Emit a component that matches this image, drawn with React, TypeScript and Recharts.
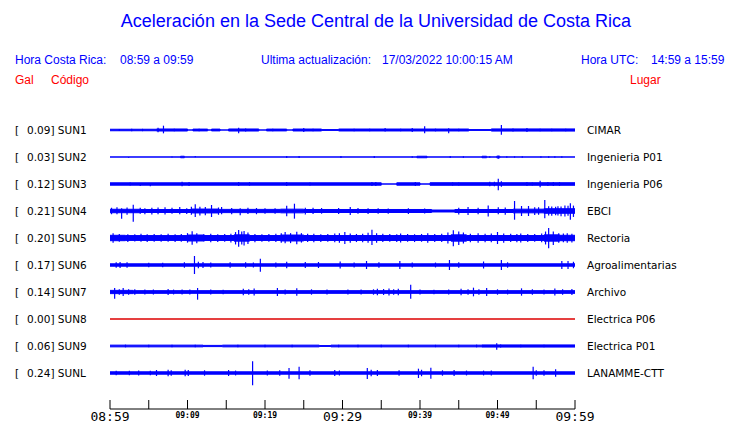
import React from "react";
import { Area, ComposedChart, ErrorBar, Scatter, XAxis, YAxis } from "recharts";

// [minute, half amplitude (Gal)] — step envelope of each trace
type Band = [number, number][];
// [minute, amplitude up (Gal), amplitude down (Gal)]
type Spikes = [number, number, number][];

const CODES = ["SUN1", "SUN2", "SUN3", "SUN4", "SUN5", "SUN6", "SUN7", "SUN8", "SUN9", "SUNL"];
const PEAKS = [0.09, 0.03, 0.12, 0.21, 0.2, 0.17, 0.14, 0.0, 0.06, 0.24];
const PLACES = [
  "CIMAR",
  "Ingenieria P01",
  "Ingenieria P06",
  "EBCI",
  "Rectoria",
  "Agroalimentarias",
  "Archivo",
  "Electrica P06",
  "Electrica P01",
  "LANAMME-CTT",
];
const ACTIVE = [true, true, true, true, true, true, true, false, true, true];

const TICK_MINUTES = [0, 5, 10, 15, 20, 25, 30, 35, 40, 45, 50, 55, 60];
const TICK_LABELS = ["08:59", "", "09:09", "", "09:19", "", "09:29", "", "09:39", "", "09:49", "", "09:59"];
const BIG_LABELS = ["08:59", "09:29", "09:59"];

const SUN1_BAND: Band = [
  [0, 0.014], [6, 0.019], [10, 0], [10.7, 0.017], [12.6, 0], [13.1, 0.017], [14.2, 0], [15.3, 0.019],
  [19.2, 0], [20.2, 0.017], [22.8, 0], [23.6, 0.018], [27.3, 0.008], [29.5, 0.018], [46.3, 0.008],
  [49.2, 0.02], [60, 0.02],
];
const SUN1_SPIKES: Spikes = [
  [1.2, 0.02, 0.02], [2.8, 0.022, 0.022], [4.2, 0.022, 0.022], [6.2, 0.04, 0.04], [6.9, 0.08, 0.062],
  [8.3, 0.025, 0.025], [11.5, 0.022, 0.022], [16.6, 0.043, 0.062], [17.5, 0.028, 0.028], [21, 0.022, 0.022],
  [25, 0.037, 0.037], [26.2, 0.025, 0.025], [31.5, 0.022, 0.022], [33.5, 0.025, 0.025], [35.5, 0.037, 0.03],
  [37.5, 0.025, 0.025], [39, 0.035, 0.035], [40.6, 0.068, 0.062], [42, 0.025, 0.025], [43.7, 0.032, 0.062],
  [45, 0.022, 0.022], [50.5, 0.093, 0.087], [52, 0.028, 0.028], [53.8, 0.037, 0.037], [55.5, 0.025, 0.025],
  [57, 0.025, 0.025], [58.8, 0.022, 0.022],
];

const SUN2_BAND: Band = [
  [0, 0.002], [9.1, 0.014], [9.6, 0.002], [39.6, 0.014], [40.9, 0.002], [48, 0.014], [48.6, 0.002],
  [49.9, 0.016], [50.3, 0.002], [60, 0.002],
];
const SUN2_SPIKES: Spikes = [
  [2.4, 0, 0.012], [8, 0.01, 0.01], [11, 0.018, 0.005], [22.8, 0.018, 0.018], [24.4, 0.018, 0.018],
  [29.8, 0.018, 0.018], [34.1, 0.018, 0.018], [39, 0.015, 0.015], [43.9, 0.018, 0.018], [45.6, 0.015, 0.015],
  [49, 0.015, 0.015], [50.1, 0.025, 0.032], [51.2, 0.012, 0.012], [52.2, 0.012, 0.012], [53.2, 0.012, 0.012],
  [55.6, 0.015, 0.015], [56.6, 0.012, 0.012], [57.4, 0.012, 0.012], [58.3, 0.012, 0.012],
];

const SUN3_BAND: Band = [[0, 0.022], [35, 0], [37, 0.022], [40, 0], [41.3, 0.024], [60, 0.024]];
const SUN3_SPIKES: Spikes = [
  [2.6, 0.03, 0.03], [3.9, 0.01, 0.037], [5.2, 0.01, 0.043], [9.3, 0.043, 0.043], [10.2, 0.035, 0.035],
  [16.6, 0.037, 0.037], [18, 0.035, 0.03], [22.8, 0.037, 0.037], [25.8, 0.03, 0.03], [33.8, 0.037, 0.037],
  [34.3, 0.035, 0.035], [39.4, 0.037, 0.037], [44.2, 0.03, 0.03], [45, 0.03, 0.03], [49, 0.043, 0.043],
  [49.6, 0.04, 0.04], [50.1, 0.098, 0.117], [50.5, 0.05, 0.05], [53.8, 0.037, 0.037], [54.5, 0.03, 0.03],
  [55.5, 0.061, 0.061], [56.5, 0.037, 0.037], [57.2, 0.035, 0.035], [58, 0.035, 0.035],
];

const SUN4_BAND: Band = [
  [0, 0.032], [4, 0.028], [10.5, 0.036], [14, 0.03], [22, 0.034], [25, 0.028], [41.5, 0.018],
  [44.5, 0.028], [52, 0.034], [56, 0.042], [60, 0.042],
];
const SUN4_SPIKES: Spikes = [
  [0.2, 0.06, 0.06], [0.9, 0.07, 0.06], [1.5, 0.05, 0.142], [2.2, 0.065, 0.07], [3, 0.117, 0.198],
  [3.9, 0.06, 0.05], [4.5, 0.05, 0.06], [5.4, 0.06, 0.065], [6.2, 0.065, 0.06], [7.1, 0.07, 0.065],
  [8, 0.06, 0.05], [9, 0.075, 0.06], [9.9, 0.05, 0.055], [10.5, 0.08, 0.07], [11, 0.124, 0.111],
  [11.6, 0.08, 0.085], [12.3, 0.075, 0.08], [13.1, 0.111, 0.111], [14, 0.065, 0.07], [14.4, 0.075, 0.06],
  [15.7, 0.055, 0.06], [16.8, 0.05, 0.08], [17.8, 0.06, 0.055], [18.9, 0.055, 0.06], [20, 0.05, 0.05],
  [21.3, 0.05, 0.05], [22.8, 0.098, 0.098], [23.8, 0.135, 0.142], [25.2, 0.06, 0.065], [26.2, 0.06, 0.055],
  [27.3, 0.055, 0.05], [29.5, 0.055, 0.055], [31, 0.074, 0.074], [32, 0.055, 0.05], [33.3, 0.05, 0.055],
  [34.6, 0.05, 0.05], [35.9, 0.045, 0.05], [38.5, 0.05, 0.055], [40.6, 0.045, 0.045], [45, 0.06, 0.065],
  [46.2, 0.074, 0.074], [47.5, 0.06, 0.06], [48.8, 0.1, 0.1], [50.1, 0.07, 0.06], [51, 0.065, 0.07],
  [52.2, 0.185, 0.161], [53.1, 0.093, 0.093], [54, 0.093, 0.093], [54.8, 0.07, 0.075], [55.3, 0.07, 0.07],
  [56.1, 0.204, 0.135], [56.6, 0.09, 0.085], [57, 0.085, 0.09], [57.5, 0.08, 0.08], [57.8, 0.09, 0.085],
  [58.2, 0.085, 0.095], [58.7, 0.1, 0.1], [59.1, 0.095, 0.09], [59.4, 0.142, 0.161], [59.8, 0.1, 0.11],
];

const SUN5_BAND: Band = [
  [0, 0.05], [2, 0.045], [10, 0.055], [12, 0.046], [16, 0.058], [18, 0.046], [22, 0.055], [25, 0.046],
  [44, 0.058], [46, 0.046], [56, 0.058], [58, 0.05], [60, 0.05],
];
const SUN5_SPIKES: Spikes = [
  [0.4, 0.09, 0.09], [1.2, 0.075, 0.07], [2.3, 0.07, 0.075], [3.2, 0.07, 0.065], [4, 0.08, 0.07],
  [4.8, 0.07, 0.075], [5.7, 0.075, 0.07], [6.6, 0.07, 0.07], [7.5, 0.08, 0.07], [8.4, 0.07, 0.075],
  [9.2, 0.075, 0.07], [10, 0.09, 0.085], [10.6, 0.124, 0.124], [11.2, 0.09, 0.095], [12.1, 0.075, 0.07],
  [13, 0.08, 0.08], [13.9, 0.07, 0.075], [14.8, 0.075, 0.07], [15.6, 0.08, 0.085], [16.2, 0.11, 0.12],
  [16.6, 0.148, 0.16], [17, 0.12, 0.12], [17.3, 0.13, 0.14], [17.8, 0.1, 0.11], [18.7, 0.075, 0.08],
  [19.6, 0.07, 0.07], [20.5, 0.075, 0.07], [21.4, 0.08, 0.075], [22.1, 0.09, 0.09], [22.6, 0.111, 0.098],
  [23.3, 0.09, 0.095], [24.1, 0.117, 0.117], [24.7, 0.09, 0.085], [25.5, 0.08, 0.075], [26.3, 0.08, 0.08],
  [27.2, 0.07, 0.075], [28.1, 0.075, 0.07], [29, 0.085, 0.08], [29.6, 0.09, 0.09], [30.3, 0.111, 0.111],
  [31, 0.085, 0.09], [31.8, 0.075, 0.075], [32.6, 0.08, 0.08], [33.3, 0.095, 0.09], [33.8, 0.154, 0.13],
  [34.4, 0.09, 0.09], [35.2, 0.08, 0.075], [36.1, 0.075, 0.07], [37, 0.07, 0.075], [37.5, 0.085, 0.085],
  [38.4, 0.075, 0.07], [39.3, 0.07, 0.075], [40.2, 0.075, 0.07], [41, 0.09, 0.09], [41.9, 0.075, 0.075],
  [42.8, 0.08, 0.075], [43.6, 0.1, 0.1], [44.3, 0.142, 0.154], [45, 0.12, 0.13], [45.6, 0.1, 0.1],
  [46.5, 0.08, 0.08], [47.5, 0.09, 0.09], [48.4, 0.08, 0.08], [49.2, 0.085, 0.08], [50, 0.111, 0.111],
  [50.8, 0.085, 0.09], [51.7, 0.08, 0.075], [52.5, 0.075, 0.08], [53, 0.085, 0.085], [53.9, 0.075, 0.075],
  [54.8, 0.075, 0.07], [55.7, 0.085, 0.08], [56.2, 0.12, 0.12], [56.6, 0.185, 0.19], [57.2, 0.12, 0.13],
  [57.9, 0.09, 0.09], [58.5, 0.085, 0.08], [59, 0.09, 0.09], [59.6, 0.08, 0.085],
];

const SUN6_BAND: Band = [[0, 0.022], [60, 0.022]];
const SUN6_SPIKES: Spikes = [
  [0.8, 0.05, 0.05], [1.3, 0.056, 0.056], [2.2, 0.05, 0.05], [5, 0.04, 0.04], [6.8, 0.04, 0.04],
  [9.6, 0.05, 0.05], [10.9, 0.167, 0.167], [11.4, 0.06, 0.06], [12, 0.056, 0.056], [13, 0.045, 0.045],
  [15.5, 0.05, 0.05], [17.5, 0.05, 0.05], [18.5, 0.045, 0.045], [19.4, 0.117, 0.124], [21.4, 0.045, 0.045],
  [22.8, 0.061, 0.061], [25.2, 0.056, 0.056], [26.9, 0.056, 0.056], [29.7, 0.065, 0.065], [31.5, 0.045, 0.045],
  [33.1, 0.074, 0.074], [34.7, 0.05, 0.05], [37.4, 0.074, 0.074], [39, 0.045, 0.045], [42, 0.045, 0.045],
  [43.8, 0.093, 0.093], [45, 0.05, 0.05], [48.2, 0.065, 0.065], [50.5, 0.093, 0.093], [51.3, 0.05, 0.05],
  [58.3, 0.074, 0.074], [59.1, 0.074, 0.074], [59.8, 0.06, 0.06],
];

const SUN7_BAND: Band = [[0, 0.03], [3, 0.025], [60, 0.025]];
const SUN7_SPIKES: Spikes = [
  [0.6, 0.074, 0.124], [1.2, 0.05, 0.05], [1.7, 0.074, 0.074], [2.4, 0.05, 0.05], [3.2, 0.05, 0.05],
  [4.5, 0.045, 0.045], [5.6, 0.045, 0.045], [7.5, 0.056, 0.056], [8.2, 0.045, 0.045], [9.3, 0.045, 0.045],
  [10.3, 0.045, 0.045], [11.3, 0.074, 0.142], [13, 0.045, 0.045], [14.6, 0.04, 0.04], [17.2, 0.06, 0.06],
  [17.9, 0.05, 0.05], [18.6, 0.065, 0.065], [21.6, 0.074, 0.074], [22.6, 0.045, 0.045], [24.1, 0.068, 0.068],
  [26, 0.05, 0.05], [28, 0.045, 0.045], [30.7, 0.045, 0.045], [32.4, 0.045, 0.045], [34, 0.05, 0.05],
  [34.5, 0.06, 0.06], [35.3, 0.055, 0.055], [36, 0.065, 0.065], [36.6, 0.05, 0.05], [37.2, 0.06, 0.06],
  [38.8, 0.135, 0.124], [40, 0.045, 0.045], [41.8, 0.04, 0.04], [43.7, 0.045, 0.045], [45.3, 0.06, 0.06],
  [46.2, 0.05, 0.05], [46.9, 0.08, 0.08], [47.6, 0.05, 0.05], [48.6, 0.074, 0.074], [50, 0.05, 0.05],
  [51.3, 0.045, 0.045], [53.1, 0.068, 0.068], [54.5, 0.05, 0.05], [56, 0.045, 0.045], [57.4, 0.065, 0.065],
  [58.4, 0.05, 0.05], [59.6, 0.056, 0.056],
];

const SUN8_BAND: Band = [[0, 0], [60, 0]];
const SUN8_SPIKES: Spikes = [];

const SUN9_BAND: Band = [
  [0, 0.016], [12, 0.011], [14.5, 0.016], [27, 0.008], [28.5, 0.016], [48, 0.02], [60, 0.02],
];
const SUN9_SPIKES: Spikes = [
  [2, 0.025, 0.025], [5, 0.022, 0.022], [8, 0.022, 0.022], [11, 0.022, 0.022], [16.5, 0.022, 0.022],
  [20, 0.022, 0.022], [23.5, 0.022, 0.022], [29.5, 0.022, 0.022], [32, 0.022, 0.022], [35, 0.022, 0.022],
  [38.5, 0.022, 0.022], [42, 0.022, 0.022], [45, 0.022, 0.022], [47.3, 0.025, 0.025], [49.9, 0.05, 0.068],
  [50.4, 0.03, 0.03], [53, 0.022, 0.022], [56, 0.022, 0.022],
];

const SUNL_BAND: Band = [[0, 0.022], [60, 0.024]];
const SUNL_SPIKES: Spikes = [
  [0.8, 0.04, 0.04], [2.5, 0.04, 0.04], [3.7, 0.045, 0.045], [5.2, 0.04, 0.04], [6, 0.056, 0.056],
  [7.5, 0.06, 0.06], [7.9, 0.05, 0.05], [9.7, 0.06, 0.06], [10.1, 0.056, 0.056], [12.2, 0.05, 0.05],
  [15.3, 0.056, 0.056], [16.2, 0.045, 0.045], [18.4, 0.217, 0.228], [20.3, 0.045, 0.045], [21.9, 0.05, 0.05],
  [23.1, 0.093, 0.105], [24.4, 0.117, 0.117], [25.8, 0.05, 0.05], [29, 0.056, 0.056], [29.6, 0.045, 0.045],
  [33.2, 0.093, 0.111], [33.7, 0.06, 0.06], [34.5, 0.056, 0.056], [37.3, 0.05, 0.05], [39.8, 0.08, 0.093],
  [40.2, 0.06, 0.06], [41.4, 0.098, 0.105], [42.9, 0.05, 0.05], [44.4, 0.056, 0.056], [46, 0.045, 0.045],
  [48.2, 0.045, 0.045], [49.2, 0.045, 0.045], [54.6, 0.117, 0.117], [55, 0.05, 0.05], [56, 0.05, 0.05],
  [57.5, 0.068, 0.068],
];

const BANDS = [SUN1_BAND, SUN2_BAND, SUN3_BAND, SUN4_BAND, SUN5_BAND, SUN6_BAND, SUN7_BAND, SUN8_BAND, SUN9_BAND, SUNL_BAND];
const SPIKES = [SUN1_SPIKES, SUN2_SPIKES, SUN3_SPIKES, SUN4_SPIKES, SUN5_SPIKES, SUN6_SPIKES, SUN7_SPIKES, SUN8_SPIKES, SUN9_SPIKES, SUNL_SPIKES];

// traces stacked 0.5 Gal apart, first one on top
const GAP = 0.5;
const centerOf = (i: number) => (CODES.length - i) * GAP;
const CENTERS = CODES.map((_, i) => centerOf(i));
const traceAt = (v: number) => CENTERS.findIndex((c) => Math.abs(c - v) < 1e-6);

const BLUE = "#0000ff";
const RED = "#ff0000";

function CodeTick(props: any) {
  const { y, payload } = props;
  const i = traceAt(payload.value);
  if (i < 0) return <g />;
  return (
    <g fontFamily="DejaVu Sans" fontSize={10.5} fill="#000">
      <text x={15} y={y} dy="0.355em">[</text>
      <text x={27} y={y} dy="0.355em">{`${PEAKS[i].toFixed(2)}] ${CODES[i]}`}</text>
    </g>
  );
}

function TimeTick(props: any) {
  const { x, y, payload } = props;
  const label = TICK_LABELS[TICK_MINUTES.indexOf(payload.value)] ?? "";
  const big = BIG_LABELS.includes(label);
  return (
    <g>
      <line x1={x} x2={x} y1={y - 9} y2={y} stroke="#000" />
      {label && (
        <text
          x={x}
          y={y + (big ? 12 : 8.5)}
          textAnchor="middle"
          fontFamily="DejaVu Sans Mono"
          fontSize={big ? 13 : 8}
          fontWeight={big ? 400 : 700}
          fill="#000"
        >
          {label}
        </text>
      )}
    </g>
  );
}

const headStyle: React.CSSProperties = {
  position: "absolute",
  fontFamily: "'Liberation Sans', Arial, sans-serif",
  fontSize: 12,
  lineHeight: "14px",
  whiteSpace: "nowrap",
  color: BLUE,
};

export default function App() {
  return (
    <div style={{ position: "relative", width: 740, height: 423, background: "#fff" }}>
      <style>{"body{margin:0}"}</style>
      <div
        style={{
          ...headStyle,
          left: 0,
          width: 740,
          top: 10,
          fontSize: 18,
          lineHeight: "22px",
          textAlign: "center",
          paddingLeft: 12,
          boxSizing: "border-box",
        }}
      >
        Aceleración en la Sede Central de la Universidad de Costa Rica
      </div>
      <div style={{ ...headStyle, left: 15, top: 53 }}>Hora Costa Rica:</div>
      <div style={{ ...headStyle, left: 120, top: 53 }}>08:59 a 09:59</div>
      <div style={{ ...headStyle, left: 261, top: 53 }}>Ultima actualización:</div>
      <div style={{ ...headStyle, left: 382, top: 53 }}>17/03/2022 10:00:15 AM</div>
      <div style={{ ...headStyle, left: 581, top: 53 }}>Hora UTC:</div>
      <div style={{ ...headStyle, left: 651, top: 53 }}>14:59 a 15:59</div>
      <div style={{ ...headStyle, left: 15, top: 73, color: RED }}>Gal</div>
      <div style={{ ...headStyle, left: 51, top: 73, color: RED }}>Código</div>
      <div style={{ ...headStyle, left: 630, top: 73, color: RED }}>Lugar</div>

      <div style={{ position: "absolute", left: 0, top: 0 }}>
        <ComposedChart width={740} height={423} margin={{ top: 103, right: 0, bottom: 0, left: 0 }}>
          <XAxis
            dataKey="t"
            type="number"
            domain={[0, 60]}
            ticks={TICK_MINUTES}
            interval={0}
            height={14}
            tickSize={0}
            tickMargin={0}
            tickLine={false}
            axisLine={{ stroke: "#000" }}
            tick={<TimeTick />}
            allowDataOverflow
          />
          <YAxis
            yAxisId="left"
            type="number"
            domain={[-GAP / 3, (CODES.length + 1) * GAP]}
            ticks={CENTERS}
            interval={0}
            width={110}
            axisLine={false}
            tickLine={false}
            tick={<CodeTick />}
            allowDataOverflow
          />
          <YAxis
            yAxisId="right"
            orientation="right"
            type="number"
            domain={[-GAP / 3, (CODES.length + 1) * GAP]}
            ticks={CENTERS}
            interval={0}
            width={165}
            axisLine={false}
            tickLine={false}
            tickSize={0}
            tickMargin={12}
            tick={{ fill: "#000", fontSize: 10.5, fontFamily: "DejaVu Sans", textAnchor: "start" }}
            tickFormatter={(v: number) => PLACES[traceAt(v)] ?? ""}
            allowDataOverflow
          />
          {BANDS.map((band, i) => {
            const c = centerOf(i);
            const color = ACTIVE[i] ? BLUE : "#dd0000";
            return (
              <Area
                key={`band-${CODES[i]}`}
                yAxisId="left"
                data={band.map(([t, a]) => ({ t, v: [c - a, c + a] }))}
                dataKey="v"
                type="stepAfter"
                stroke={color}
                strokeWidth={1}
                fill={color}
                fillOpacity={1}
                dot={false}
                activeDot={false}
                isAnimationActive={false}
              />
            );
          })}
          {SPIKES.map((spikes, i) => {
            const c = centerOf(i);
            return (
              <Scatter
                key={`spk-${CODES[i]}`}
                yAxisId="left"
                data={spikes.map(([t, up, down]) => ({ t, y: c, err: [down, up] }))}
                dataKey="y"
                shape={() => <g />}
                isAnimationActive={false}
              >
                <ErrorBar dataKey="err" direction="y" width={0} stroke={BLUE} strokeWidth={1.2} />
              </Scatter>
            );
          })}
        </ComposedChart>
      </div>
    </div>
  );
}
